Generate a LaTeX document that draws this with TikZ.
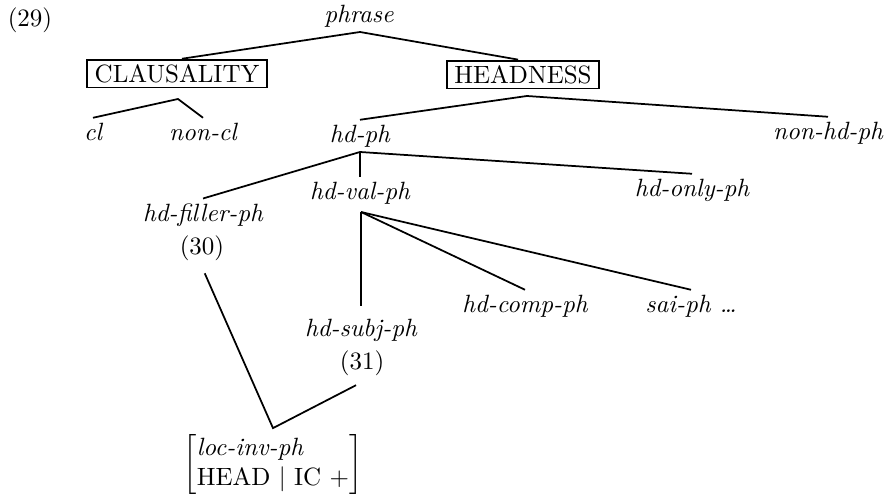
\documentclass[tikz,border=0pt]{standalone}
\usepackage{amsmath}
\usepackage{tikz}
\usepackage{xcolor}

\begin{document}
\begin{tikzpicture}[x=0.4pt, y=-0.4pt, line width=0.7pt,
  typ/.style={font=\itshape, inner sep=2pt, anchor=base},
  num/.style={inner sep=2pt, anchor=base},
  dimbox/.style={draw, line width=0.6pt, inner xsep=3pt, inner ysep=1.5pt, minimum height=11pt}]
  \useasboundingbox (0,0) rectangle (889,504);
  %coordinates
  \coordinate (Ex29)   at (30,27);
  \coordinate (Phr)    at (359,23);
  \coordinate (ClaBox) at (177,74);
  \coordinate (HedBox) at (523,75);
  \coordinate (Cl)     at (93,141);
  \coordinate (NonCl)  at (203,141);
  \coordinate (HdPh)   at (360,143);
  \coordinate (NonHd)  at (828,140);
  \coordinate (HdVal)  at (360,200);
  \coordinate (HdFil)  at (203,222);
  \coordinate (HdOnl)  at (692,197);
  \coordinate (Ex30)   at (202,255);
  \coordinate (HdSub)  at (361,337);
  \coordinate (Ex31)   at (362,370);
  \coordinate (HdCom)  at (525,313);
  \coordinate (SaiPh)  at (691,313);
  \coordinate (LocInv) at (273,465);
  %branching points
  \coordinate (aPhr) at (360,32);
  \coordinate (aCla) at (178,99);
  \coordinate (aHed) at (527,96);
  \coordinate (aHph) at (360,152);
  \coordinate (aHva) at (361,212);

  %nodes
  \node[num] (E29) at (Ex29) {(29)};
  \node[typ] (phrase) at (Phr) {phrase};
  \node[dimbox] (claus) at (ClaBox) {CLAUSALITY};
  \node[dimbox] (head) at (HedBox) {HEADNESS};
  \node[typ] (cl) at (Cl) {cl};
  \node[typ] (noncl) at (NonCl) {non-cl};
  \node[typ] (hdph) at (HdPh) {hd-ph};
  \node[typ] (nonhd) at (NonHd) {non-hd-ph};
  \node[typ] (hdval) at (HdVal) {hd-val-ph};
  \node[typ] (hdfil) at (HdFil) {hd-filler-ph};
  \node[typ] (hdonl) at (HdOnl) {hd-only-ph};
  \node[num] (E30) at (Ex30) {(30)};
  \node[typ] (hdsub) at (HdSub) {hd-subj-ph};
  \node[num] (E31) at (Ex31) {(31)};
  \node[typ] (hdcom) at (HdCom) {hd-comp-ph};
  \node[typ] (saiph) at (SaiPh) {sai-ph \ldots};
  \node[inner sep=2.4pt] (locinv) at (LocInv)
    {$\left[\begin{array}{@{}l@{}}\textit{loc-inv-ph}\\ \text{HEAD $|$ IC $+$}\end{array}\right]$};

\draw[shorten <=2pt, shorten >=2pt] (claus.north) -- (aPhr) -- (head.north);
\draw (cl.north) -- (aCla) -- (noncl.north);
\draw (hdph.north) -- (aHed) -- (nonhd.north);
\draw (hdfil.north) -- (aHph) -- (hdonl.north);
\draw (aHph) -- (hdval.north);
\draw[shorten >=3pt] (aHva) -- (hdsub.north);
\draw (aHva) -- (hdcom.north);
\draw (aHva) -- (saiph.north);
\draw[shorten <=2.7pt, shorten >=2.7pt] (E30.south) -- (locinv.north) -- (E31.south);

\end{tikzpicture}
\end{document}
